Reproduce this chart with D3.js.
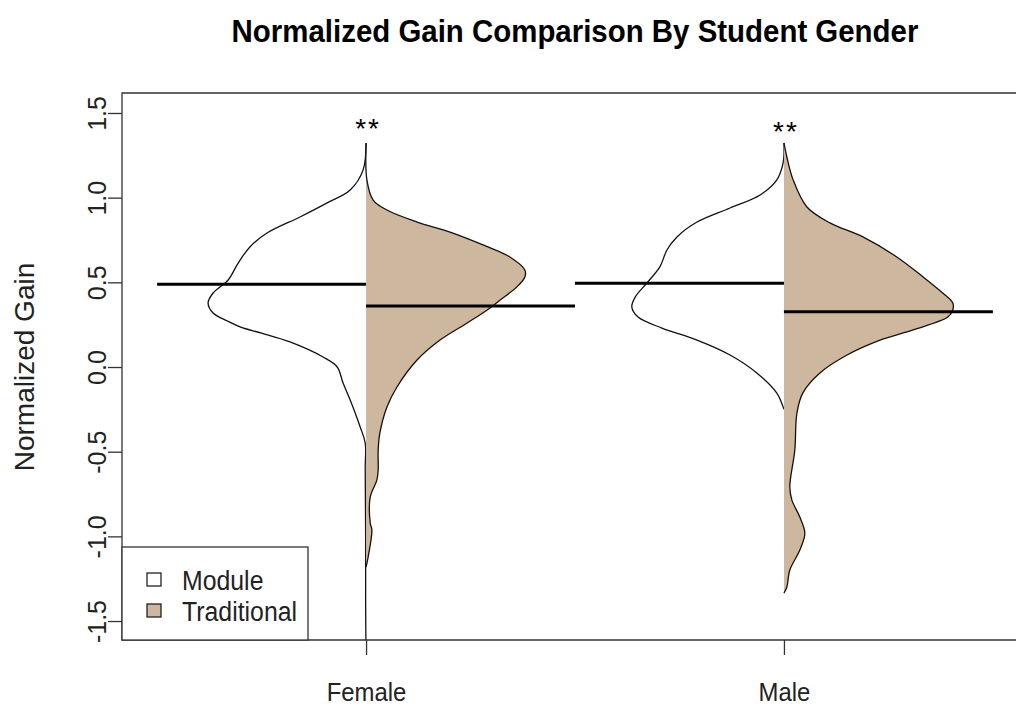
<!DOCTYPE html>
<html>
<head>
<meta charset="utf-8">
<script src="https://cdn.jsdelivr.net/npm/d3@7/dist/d3.min.js"></script>
<style>
  html, body { margin: 0; padding: 0; background: #ffffff; }
  svg { display: block; }
</style>
</head>
<body>
<svg id="chart" width="1016" height="706"></svg>
<script>
// ---------------- data ----------------
const title = "Normalized Gain Comparison By Student Gender";
const yTitle = "Normalized Gain";
const categories = ["Female", "Male"];
const groups = ["Module", "Traditional"];
const yTicks = [-1.5, -1.0, -0.5, 0.0, 0.5, 1.0, 1.5];
const yTickLabels = ["-1.5", "-1.0", "-0.5", "0.0", "0.5", "1.0", "1.5"];

// density outlines: [value, half-width]
const femaleModule = [[1.323,0],[1.164,0.007],[1.045,0.038],[0.969,0.093],[0.886,0.158],[0.791,0.237],[0.709,0.278],[0.614,0.306],[0.514,0.330],[0.437,0.366],[0.378,0.378],[0.319,0.366],[0.27,0.33],[0.236,0.30],[0.20,0.25],[0.148,0.182],[0.059,0.103],[0.0,0.069],[-0.095,0.055],[-0.195,0.038],[-0.354,0.014],[-0.449,0.002],[-0.6,0.002],[-1.0,0.001],[-1.4,0.001],[-1.7,0]];
const femaleTraditional = [[1.323,0],[1.105,0.002],[0.986,0.017],[0.927,0.050],[0.856,0.122],[0.797,0.201],[0.721,0.280],[0.650,0.344],[0.573,0.380],[0.532,0.380],[0.473,0.361],[0.396,0.321],[0.337,0.290],[0.260,0.242],[0.159,0.177],[0.041,0.122],[-0.118,0.074],[-0.236,0.050],[-0.390,0.033],[-0.490,0.029],[-0.608,0.029],[-0.667,0.026],[-0.768,0.010],[-0.921,0.010],[-0.963,0.014],[-1.122,0.005],[-1.181,0]];
const maleModule = [[1.323,0],[1.205,0.002],[1.105,0.017],[1.016,0.057],[0.939,0.129],[0.856,0.208],[0.768,0.256],[0.691,0.280],[0.591,0.297],[0.496,0.328],[0.413,0.356],[0.354,0.364],[0.295,0.349],[0.230,0.292],[0.159,0.208],[0.071,0.129],[-0.035,0.065],[-0.154,0.017],[-0.236,0.002],[-0.25,0]];
const maleTraditional = [[1.323,0],[1.240,0.007],[1.105,0.022],[0.945,0.055],[0.851,0.110],[0.768,0.189],[0.650,0.270],[0.532,0.333],[0.437,0.380],[0.378,0.404],[0.337,0.404],[0.295,0.392],[0.219,0.309],[0.159,0.230],[0.071,0.151],[-0.035,0.086],[-0.154,0.045],[-0.272,0.031],[-0.490,0.026],[-0.709,0.014],[-0.786,0.019],[-0.886,0.038],[-0.981,0.050],[-1.081,0.038],[-1.199,0.014],[-1.299,0.007],[-1.335,0]];

const moduleMeans = [0.488, 0.494];
const traditionalMeans = [0.360, 0.327];
const starLabels = ["**", "**"];
const starValues = [1.355, 1.335];

const groupColors = ["#ffffff", "#cdb79e"];

// ---------------- layout ----------------
const svg = d3.select("#chart");
const plot = { left: 122, top: 93, right: 1028, bottom: 640 };
const SX = 0.92; // horizontal condensing of horizontal text

const x = d3.scaleLinear().domain([0.416, 2.584]).range([plot.left, plot.right]);
const y = d3.scaleLinear().domain([-1.612, 1.618]).range([plot.bottom, plot.top]);
const w = d3.scaleLinear().domain([0, 1]).range([0, x(2) - x(1)]);

const font = "'Liberation Sans', Arial, sans-serif";

svg.append("defs").append("clipPath").attr("id", "clip")
  .append("rect")
  .attr("x", plot.left).attr("y", plot.top)
  .attr("width", plot.right - plot.left).attr("height", plot.bottom - plot.top);

// title
svg.append("text")
  .attr("transform", `translate(${(plot.left + plot.right) / 2},42) scale(${SX},1)`)
  .attr("text-anchor", "middle")
  .style("font-family", font).style("font-weight", "bold").style("font-size", "32px")
  .attr("fill", "#000")
  .text(title);

const gPlot = svg.append("g").attr("clip-path", "url(#clip)");

const violins = [
  { cat: 0, side: -1, data: femaleModule, color: groupColors[0] },
  { cat: 0, side: 1, data: femaleTraditional, color: groupColors[1] },
  { cat: 1, side: -1, data: maleModule, color: groupColors[0] },
  { cat: 1, side: 1, data: maleTraditional, color: groupColors[1] }
];

const curve = d3.curveCatmullRom.alpha(0.5);
violins.forEach(v => {
  const cx = x(v.cat + 1);
  const area = d3.area()
    .y(d => y(d[0]))
    .x0(cx)
    .x1(d => cx + v.side * w(d[1]))
    .curve(curve);
  const line = d3.line()
    .y(d => y(d[0]))
    .x(d => cx + v.side * w(d[1]))
    .curve(curve);
  gPlot.append("path").attr("d", area(v.data)).attr("fill", v.color).attr("stroke", "none");
  gPlot.append("path").attr("d", line(v.data)).attr("fill", "none")
    .attr("stroke", "#111").attr("stroke-width", 1.3);
});

// mean lines and significance stars
categories.forEach((c, i) => {
  gPlot.append("line")
    .attr("x1", x(i + 1 - 0.5)).attr("x2", x(i + 1))
    .attr("y1", y(moduleMeans[i])).attr("y2", y(moduleMeans[i]))
    .attr("stroke", "#000").attr("stroke-width", 3);
  gPlot.append("line")
    .attr("x1", x(i + 1)).attr("x2", x(i + 1 + 0.5))
    .attr("y1", y(traditionalMeans[i])).attr("y2", y(traditionalMeans[i]))
    .attr("stroke", "#000").attr("stroke-width", 3);
  svg.append("text")
    .attr("x", x(i + 1) + 2).attr("y", y(starValues[i]))
    .attr("text-anchor", "middle")
    .style("font-family", font).style("font-size", "28px")
    .style("letter-spacing", "2px")
    .attr("fill", "#000")
    .text(starLabels[i]);
});

// box
svg.append("path")
  .attr("d", `M${plot.right},${plot.top}H${plot.left}V${plot.bottom}H${plot.right}`)
  .attr("fill", "none").attr("stroke", "#333").attr("stroke-width", 1.3);

// y axis
const yAxis = svg.append("g")
  .attr("transform", `translate(${plot.left},0)`)
  .call(d3.axisLeft(y).tickValues(yTicks).tickSize(14)
    .tickFormat((d, i) => yTickLabels[i]));
yAxis.select(".domain").remove();
yAxis.selectAll("line").attr("stroke", "#333").attr("stroke-width", 1.3);
yAxis.selectAll("text")
  .attr("x", null).attr("y", null).attr("dy", null)
  .attr("transform", "translate(-16,0) rotate(-90)")
  .attr("text-anchor", "middle")
  .attr("fill", "#222")
  .style("font-family", font).style("font-size", "25px");

// x axis
const xAxis = svg.append("g")
  .attr("transform", `translate(0,${plot.bottom})`)
  .call(d3.axisBottom(x).tickValues([1, 2]).tickSize(15)
    .tickFormat((d, i) => categories[i]));
xAxis.select(".domain").remove();
xAxis.selectAll("line").attr("stroke", "#333").attr("stroke-width", 1.3);
xAxis.selectAll("text")
  .attr("y", null).attr("dy", null)
  .attr("transform", `translate(0,61) scale(${SX},1)`)
  .attr("fill", "#222")
  .style("font-family", font).style("font-size", "26px");

// y title
svg.append("text")
  .attr("transform", `translate(34,${(y(-1.5) + y(1.5)) / 2}) rotate(-90)`)
  .attr("text-anchor", "middle")
  .attr("fill", "#222")
  .style("font-family", font).style("font-size", "28px")
  .text(yTitle);

// legend
const lg = svg.append("g");
lg.append("rect")
  .attr("x", plot.left).attr("y", 547)
  .attr("width", 308 - plot.left).attr("height", plot.bottom - 547)
  .attr("fill", "#fff").attr("stroke", "#333").attr("stroke-width", 1.3);
groups.forEach((g, i) => {
  const yy = 573 + i * 31;
  lg.append("rect")
    .attr("x", 147).attr("y", yy).attr("width", 14).attr("height", 13)
    .attr("fill", groupColors[i]).attr("stroke", "#222").attr("stroke-width", 1.3);
  lg.append("text")
    .attr("transform", `translate(182,${yy + 17}) scale(${SX},1)`)
    .attr("fill", "#222")
    .style("font-family", font).style("font-size", "27px")
    .text(g);
});
</script>
</body>
</html>
